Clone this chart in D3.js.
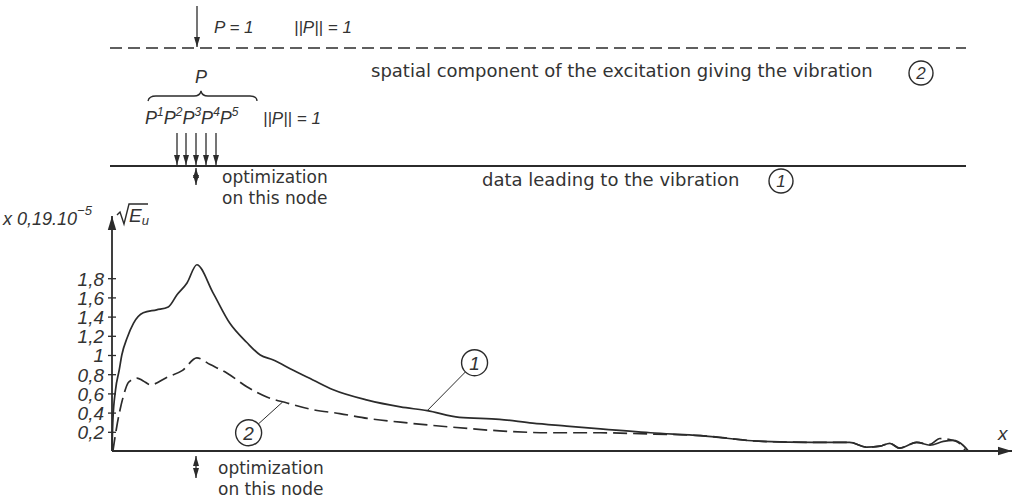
<!DOCTYPE html>
<meta charset="utf-8">
<head>
<style>
  body { margin: 0; background: #fff; }
  svg text { fill: #333; }
  .lbl { font-family: "DejaVu Sans", sans-serif; font-size: 18px; }
  .lbl2 { font-family: "DejaVu Sans", sans-serif; font-size: 17px; }
  .it { font-family: "Liberation Sans", sans-serif; font-style: italic; }
</style>
</head>
<body>
<div id="chart"></div>
<script src="https://d3js.org/d3.v7.min.js"></script>
<script>
// curve 1 : data leading to the vibration (solid)
let pos1 = [0, 0.1, 0.4, 0.8, 1.1, 1.7, 2.4, 3.5, 5.0, 6.3, 7.3, 8.4, 9.5, 11.3, 13.2, 15.1, 16.6, 18.0, 20.3, 22.5, 24.7, 28.6, 32.3, 35.3, 38.9, 43.4, 47.1, 50.9, 54.7, 60.3, 65.9, 72.9, 78.5, 82.6, 84.5, 86.0, 87.1, 88.2, 90.1, 91.6, 93.1, 94.2, 95.3, 95.9];
let val1 = [0, 0.32, 0.64, 0.84, 1.0, 1.18, 1.33, 1.44, 1.47, 1.5, 1.63, 1.75, 1.94, 1.65, 1.33, 1.13, 1.0, 0.95, 0.84, 0.74, 0.64, 0.53, 0.46, 0.42, 0.35, 0.33, 0.29, 0.26, 0.23, 0.19, 0.16, 0.10, 0.09, 0.09, 0.04, 0.05, 0.08, 0.03, 0.09, 0.06, 0.10, 0.11, 0.06, 0];

// curve 2 : spatial component of the excitation (dashed)
let pos2 = [0.1, 0.6, 0.9, 1.3, 1.8, 2.2, 2.8, 3.5, 4.3, 6.2, 7.9, 9.5, 11.0, 12.9, 15.1, 17.4, 19.6, 22.5, 25.5, 28.6, 32.3, 37.9, 43.4, 49.0, 54.7, 59.1, 65.9, 72.9, 78.5, 82.6, 84.5, 86.0, 87.1, 88.2, 90.1, 91.6, 92.7, 93.8, 94.9, 95.6];
let val2 = [0, 0.29, 0.43, 0.58, 0.71, 0.74, 0.76, 0.73, 0.69, 0.77, 0.84, 0.97, 0.9, 0.81, 0.67, 0.56, 0.5, 0.43, 0.39, 0.34, 0.30, 0.25, 0.21, 0.19, 0.19, 0.18, 0.16, 0.10, 0.09, 0.09, 0.04, 0.05, 0.08, 0.03, 0.09, 0.07, 0.13, 0.12, 0.08, 0];

let yTicks = [0.2, 0.4, 0.6, 0.8, 1, 1.2, 1.4, 1.6, 1.8];
let yTickLabels = ['0,2', '0,4', '0,6', '0,8', '1', '1,2', '1,4', '1,6', '1,8'];

// callouts: [label, circle pos, circle val, target pos, target val]
let callouts = [
  ['1', 40.6, 0.92, 35.3, 0.42],
  ['2', 15.3, 0.19, 19.1, 0.51]
];

let W = 1013, H = 502;
let ink = '#2b2b2b';

let svg = d3.select('#chart').append('svg')
    .attr('width', W).attr('height', H);

let defs = svg.append('defs');
defs.append('marker').attr('id', 'ah').attr('viewBox', '0 0 10 10')
    .attr('refX', 10).attr('refY', 5)
    .attr('markerWidth', 10).attr('markerHeight', 10)
    .attr('markerUnits', 'userSpaceOnUse')
    .attr('orient', 'auto-start-reverse')
    .append('path').attr('d', 'M0,2 L10,5 L0,8 Z').attr('fill', ink);
defs.append('marker').attr('id', 'ahBig').attr('viewBox', '0 0 10 10')
    .attr('refX', 10).attr('refY', 5)
    .attr('markerWidth', 14).attr('markerHeight', 14)
    .attr('markerUnits', 'userSpaceOnUse')
    .attr('orient', 'auto')
    .append('path').attr('d', 'M0,2 L10,5 L0,8 Z').attr('fill', ink);

function arrow(x1, y1, x2, y2, both) {
  let l = svg.append('line').attr('x1', x1).attr('y1', y1).attr('x2', x2).attr('y2', y2)
      .attr('stroke', ink).attr('stroke-width', 1.3)
      .attr('marker-end', 'url(#ah)');
  if (both) l.attr('marker-start', 'url(#ah)');
}

// ---------- top schematic ----------
// dashed beam (vibration 2)
svg.append('line').attr('x1', 110).attr('x2', 966).attr('y1', 48).attr('y2', 48)
    .attr('stroke', ink).attr('stroke-width', 1.6).attr('stroke-dasharray', '12,6');
arrow(197, 6, 197, 47);
svg.append('text').attr('class', 'it').attr('x', 214).attr('y', 33).attr('font-size', 17).text('P = 1');
svg.append('text').attr('class', 'it').attr('x', 294).attr('y', 33).attr('font-size', 17).text('||P|| = 1');

svg.append('text').attr('class', 'it').attr('x', 201).attr('y', 83).attr('font-size', 18)
    .attr('text-anchor', 'middle').text('P');
svg.append('path')
    .attr('d', 'M148,101 Q149,96 156,96 L194,96 Q200,96 201,91 Q202,96 208,96 L250,96 Q257,96 257,101')
    .attr('fill', 'none').attr('stroke', ink).attr('stroke-width', 1.3);
svg.append('text').attr('class', 'lbl').attr('x', 371).attr('y', 77)
    .text('spatial component of the excitation giving the vibration');

let pRow = svg.append('text').attr('class', 'it').attr('x', 145).attr('y', 124).attr('font-size', 18);
[1, 2, 3, 4, 5].forEach(i => {
  pRow.append('tspan').attr('dy', i > 1 ? 8 : 0).text('P');
  pRow.append('tspan').attr('font-size', 12).attr('dy', -8).text(i);
});
svg.append('text').attr('class', 'it').attr('x', 263).attr('y', 124).attr('font-size', 17).text('||P|| = 1');

// solid beam (vibration 1)
svg.append('line').attr('x1', 110).attr('x2', 966).attr('y1', 166).attr('y2', 166)
    .attr('stroke', ink).attr('stroke-width', 1.8);
[177, 186, 196, 206, 216].forEach(x => arrow(x, 133, x, 165));
arrow(196, 176, 196, 168);
arrow(196, 176, 196, 185);
svg.append('text').attr('class', 'lbl2').attr('x', 222).attr('y', 183).text('optimization');
svg.append('text').attr('class', 'lbl2').attr('x', 222).attr('y', 204).text('on this node');
svg.append('text').attr('class', 'lbl').attr('x', 482).attr('y', 186).text('data leading to the vibration');

function circled(cx, cy, t) {
  svg.append('circle').attr('cx', cx).attr('cy', cy).attr('r', 12)
      .attr('fill', 'none').attr('stroke', ink).attr('stroke-width', 1.4);
  svg.append('text').attr('class', 'it').attr('x', cx).attr('y', cy + 6)
      .attr('text-anchor', 'middle').attr('font-size', 17).text(t);
}
circled(921, 73, '2');
circled(781, 181, '1');

// ---------- chart ----------
let x = d3.scaleLinear().domain([0, 100]).range([112, 1005]);
let y = d3.scaleLinear().domain([0, 1]).range([451, 355]);

// y axis
let yAxis = svg.append('g').attr('transform', `translate(${x(0)},0)`)
    .call(d3.axisLeft(y).tickValues(yTicks).tickSize(4).tickPadding(4)
        .tickFormat((d, i) => yTickLabels[i]));
yAxis.select('.domain').remove();
yAxis.selectAll('.tick line').attr('x1', -4).attr('x2', 4).attr('stroke', ink).attr('stroke-width', 1.3);
yAxis.selectAll('.tick text').attr('class', 'it').attr('font-size', 19).attr('fill', '#333')
    .attr('dy', '0.36em');

svg.append('line').attr('x1', x(0)).attr('x2', x(0)).attr('y1', y(0)).attr('y2', 216)
    .attr('stroke', ink).attr('stroke-width', 1.8).attr('marker-end', 'url(#ahBig)');
svg.append('line').attr('x1', x(0)).attr('x2', 1012).attr('y1', y(0)).attr('y2', y(0))
    .attr('stroke', ink).attr('stroke-width', 1.8).attr('marker-end', 'url(#ahBig)');

// axis titles
let yt = svg.append('text').attr('class', 'it').attr('x', 3).attr('y', 225).attr('font-size', 18);
yt.append('tspan').text('x 0,19.10');
yt.append('tspan').attr('font-size', 13).attr('dy', -10).text('−5');
svg.append('path').attr('d', 'M117,215 L120,212 L124,224 L129,204 L148,204')
    .attr('fill', 'none').attr('stroke', ink).attr('stroke-width', 1.4);
let et = svg.append('text').attr('class', 'it').attr('x', 129).attr('y', 222).attr('font-size', 19);
et.append('tspan').text('E');
et.append('tspan').attr('font-size', 13).attr('dy', 3).text('u');
svg.append('text').attr('class', 'it').attr('x', 998).attr('y', 440).attr('font-size', 19).text('x');

// curves
let line = d3.line().x(d => x(d[0])).y(d => y(d[1])).curve(d3.curveMonotoneX);
svg.append('path').datum(d3.zip(pos2, val2)).attr('d', line)
    .attr('fill', 'none').attr('stroke', ink).attr('stroke-width', 1.7)
    .attr('stroke-dasharray', '14,6');
svg.append('path').datum(d3.zip(pos1, val1)).attr('d', line)
    .attr('fill', 'none').attr('stroke', ink).attr('stroke-width', 1.7);

// callouts
callouts.forEach(c => {
  let cx = x(c[1]), cy = y(c[2]), tx = x(c[3]), ty = y(c[4]);
  let a = Math.atan2(ty - cy, tx - cx);
  svg.append('line').attr('x1', cx + 13 * Math.cos(a)).attr('y1', cy + 13 * Math.sin(a))
      .attr('x2', tx).attr('y2', ty).attr('stroke', ink).attr('stroke-width', 1);
  svg.append('circle').attr('cx', cx).attr('cy', cy).attr('r', 13)
      .attr('fill', '#fff').attr('stroke', ink).attr('stroke-width', 1.4);
  svg.append('text').attr('class', 'it').attr('x', cx).attr('y', cy + 7)
      .attr('text-anchor', 'middle').attr('font-size', 19).text(c[0]);
});

// bottom node marker
arrow(196, 466, 196, 456);
arrow(196, 466, 196, 478);
svg.append('text').attr('class', 'lbl2').attr('x', 218).attr('y', 474).text('optimization');
svg.append('text').attr('class', 'lbl2').attr('x', 218).attr('y', 495).text('on this node');
</script>
</body>
